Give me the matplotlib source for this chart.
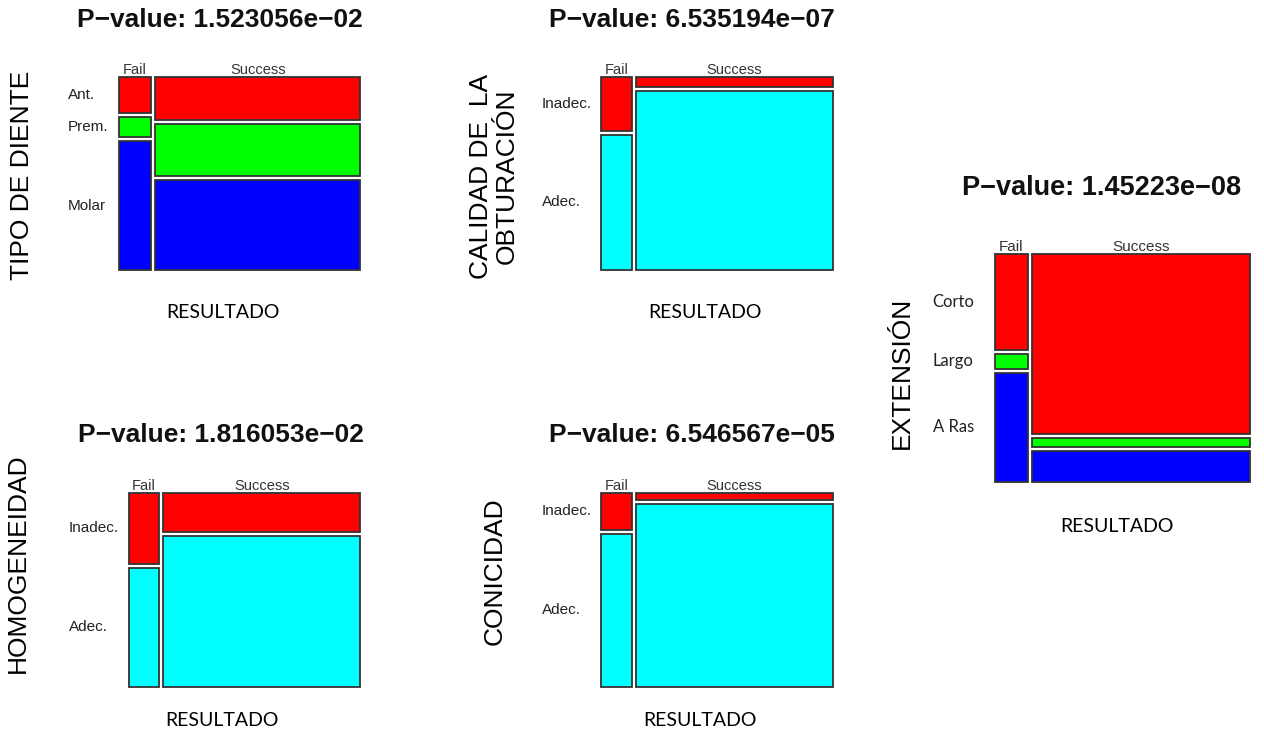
import matplotlib

matplotlib.use("Agg")
import matplotlib.pyplot as plt
from matplotlib.patches import Rectangle
from matplotlib.transforms import blended_transform_factory

W, H = 1264, 734

RED, GREEN, BLUE, CYAN = "#ff0000", "#00ff00", "#0000ff", "#00ffff"

# proportions
cols = ["Fail", "Success"]

diente_labels = ["Ant.", "Prem.", "Molar"]
diente_fail_share = 0.135
diente_fail = [0.194, 0.111, 0.695]
diente_succ = [0.233, 0.283, 0.484]

calidad_labels = ["Inadec.", "Adec."]
calidad_fail_share = 0.134
calidad_fail = [0.285, 0.715]
calidad_succ = [0.053, 0.947]

ext_labels = ["Corto", "Largo", "A Ras"]
ext_fail_share = 0.131
ext_fail = [0.434, 0.068, 0.498]
ext_succ = [0.815, 0.045, 0.140]

homog_labels = ["Inadec.", "Adec."]
homog_fail_share = 0.132
homog_fail = [0.374, 0.626]
homog_succ = [0.205, 0.795]

conic_labels = ["Inadec.", "Adec."]
conic_fail_share = 0.136
conic_fail = [0.196, 0.804]
conic_succ = [0.038, 0.962]

pvalues = ["1.523056e\u221202", "6.535194e\u221207", "1.45223e\u221208",
           "1.816053e\u221202", "6.546567e\u221205"]

fig = plt.figure(figsize=(W / 100, H / 100), dpi=100)


def fx(x):
    return x / W


def fy(y):
    return 1 - y / H


def mosaic(box, fail_share, fail, succ, colors, labels, lab_x, title, title_xy,
           ylabel, ylab_xy, res_xy, title_size=19, lab_font="Liberation Sans",
           lab_size=11, col_size=10.5):
    l, t, r, b = box
    ax = fig.add_axes([fx(l), fy(b), (r - l) / W, (b - t) / H])
    ax.set_xlim(0, 1)
    ax.set_ylim(0, 1)
    ax.axis("off")
    gx = 4.3 / (r - l)
    gy = 4.0 / (b - t)
    wf = (1 - gx) * fail_share
    ws = (1 - gx) - wf
    x0s = [0, wf + gx]
    widths = [wf, ws]
    centers = []
    for ci, props in enumerate([fail, succ]):
        avail = 1 - gy * (len(props) - 1)
        top = 1.0
        for k, p in enumerate(props):
            h = p * avail
            ax.add_patch(Rectangle((x0s[ci], top - h), widths[ci], h,
                                   facecolor=colors[k], edgecolor="#333333",
                                   lw=1.3, clip_on=False))
            if ci == 0:
                centers.append(top - h / 2)
            top -= h + gy
        ax.text(x0s[ci] + widths[ci] / 2, 1.0, cols[ci], ha="center",
                va="bottom", fontsize=col_size, color="#333333",
                family="Liberation Sans")
    tr = blended_transform_factory(fig.transFigure, ax.transAxes)
    for lab, yc in zip(labels, centers):
        ax.text(fx(lab_x), yc, lab, transform=tr, ha="left", va="center",
                fontsize=lab_size, color="#222222", family=lab_font)
    fig.text(fx(title_xy[0]), fy(title_xy[1]), "P\u2212value: " + title,
             ha="center", va="center", fontsize=title_size, weight="bold",
             family="Liberation Sans", color="#111111")
    fig.text(fx(ylab_xy[0]), fy(ylab_xy[1]), ylabel, rotation=90,
             ha="center", va="center", fontsize=19, family="Liberation Sans",
             multialignment="center", linespacing=1.1)
    fig.text(fx(res_xy[0]), fy(res_xy[1]), "RESULTADO", ha="center",
             va="center", fontsize=14, family="Lato")
    return ax


mosaic((119, 76.7, 360.3, 270), diente_fail_share, diente_fail, diente_succ,
       [RED, GREEN, BLUE], diente_labels, 68, pvalues[0], (220, 20),
       "TIPO DE DIENTE", (22, 175), (223, 312))

mosaic((601.3, 76.7, 832.7, 270), calidad_fail_share, calidad_fail,
       calidad_succ, [RED, CYAN], calidad_labels, 541.7, pvalues[1],
       (692, 20), "CALIDAD DE  LA\nOBTURACIÓN", (494, 176), (705, 312))

mosaic((995, 254, 1250, 482.3), ext_fail_share, ext_fail, ext_succ,
       [RED, GREEN, BLUE], ext_labels, 932.7, pvalues[2], (1102, 188),
       "EXTENSIÓN", (902, 373), (1117, 527), title_size=19.5,
       lab_font="Lato", lab_size=12, col_size=11)

mosaic((129, 492.7, 360.3, 686.7), homog_fail_share, homog_fail, homog_succ,
       [RED, CYAN], homog_labels, 69, pvalues[3], (221, 435),
       "HOMOGENEIDAD", (18, 563), (222, 720))

mosaic((601, 492.7, 832.7, 686.7), conic_fail_share, conic_fail, conic_succ,
       [RED, CYAN], conic_labels, 541.7, pvalues[4], (692, 435),
       "CONICIDAD", (495, 571), (700, 720))

fig.savefig("out.png", dpi=100, facecolor="white")
